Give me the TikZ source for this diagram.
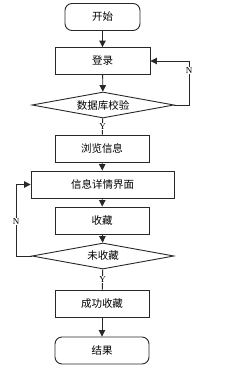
\documentclass[tikz,border=0pt]{standalone}
\usepackage{fontspec}
\setmainfont{Liberation Serif}
\newfontfamily\cjk{Noto Sans CJK SC}
\usepackage{tikz}
\usetikzlibrary{arrows.meta, shapes.geometric}
\definecolor{trait}{RGB}{40,40,40}

\begin{document}
\begin{tikzpicture}[x=1pt, y=-1pt,
	box/.style={draw=trait, line width=0.9pt, fill=white,
		font=\cjk\fontsize{10.5}{12}\selectfont, inner sep=0pt},
	etape/.style={box, minimum width=94pt, minimum height=27pt},
	terminal/.style={box, rounded corners=7pt, minimum height=27pt},
	choix/.style={box, diamond, aspect=5.4, minimum width=142pt, minimum height=26pt},
	lien/.style={draw=trait, line width=0.9pt},
	fleche/.style={lien, -{Triangle[length=6.5pt, width=6.5pt]}},
	marque/.style={font=\fontsize{9}{10}\selectfont, fill=white, inner sep=0.6pt}]
	\useasboundingbox (0,0) rectangle (237,370);
	
	\node[terminal, minimum width=75pt] (debut) at (102.5,17) {开始};
	\node[etape, minimum width=95pt] (login) at (102.5,61) {登录};
	\node[choix] (verif) at (103,105) {数据库校验};
	\node[etape] (parcours) at (102,148.5) {浏览信息};
	\node[etape, minimum width=143pt] (details) at (102.5,184.5) {信息详情界面};
	\node[etape] (favori) at (102,220.5) {收藏};
	\node[choix] (nonfav) at (103,256) {未收藏};
	\node[etape] (succes) at (102,303.5) {成功收藏};
	\node[terminal, minimum width=94pt] (fin) at (102,350.5) {结果};
	
	\coordinate (droite) at (189,105);
	\coordinate (gauche) at (16,256);
	
	\draw[fleche] (debut) -- (login);
	\draw[fleche] (login) -- (verif);
	\draw[lien] (verif) -- node[marque] {Y} (parcours);
	\draw[fleche] (parcours) -- (details);
	\draw[fleche] (details) -- (favori);
	\draw[fleche] (favori) -- (nonfav);
	\draw[lien] (nonfav) -- node[marque] {Y} (succes);
	\draw[fleche] (succes) -- (fin);
	
	\draw[fleche] (verif.east) -- (droite) |- node[marque, pos=0.39] {N} (login.east);
	\draw[fleche] (nonfav.west) -- (gauche) |- node[marque, pos=0.24] {N} (details.west);
\end{tikzpicture}
\end{document}
